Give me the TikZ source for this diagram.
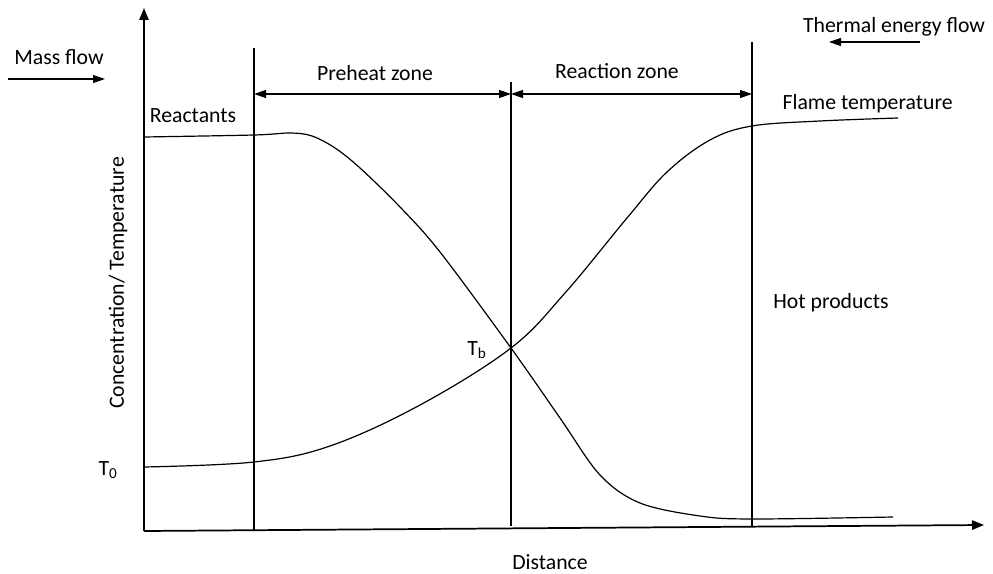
\documentclass[tikz,border=0pt]{standalone}
\usepackage{fontspec}
\setmainfont{Carlito}
\usetikzlibrary{arrows.meta,positioning}

\begin{document}
\begin{tikzpicture}[
  x=0.75pt,y=-0.75pt,
  every node/.style={font=\fontsize{16.3}{19}\selectfont,inner sep=1pt},
  axis/.style={line width=1.3pt,-{Triangle[length=9pt,width=7pt]}},
  zone/.style={line width=0.9pt},
  span/.style={line width=0.9pt,{Triangle[length=9pt,width=6pt]}-{Triangle[length=9pt,width=6pt]}},
  flow/.style={line width=0.9pt,-{Triangle[length=9pt,width=6pt]}},
  profile/.style={line width=0.9pt}
]
\useasboundingbox (0,0) rectangle (993,574);
% axes
\coordinate (origin) at (144,531);
\coordinate (ytip) at (144,8);
\coordinate (xtip) at (984,525);
\draw[axis] (origin) -- (ytip);
\draw[axis] (origin) -- (xtip);
% zone boundaries
\coordinate (preTop) at (254,48);
\coordinate (preBot) at (254,531);
\coordinate (rxnTop) at (511,82);
\coordinate (rxnBot) at (511,526);
\coordinate (hotTop) at (752,42);
\coordinate (hotBot) at (752,527);
\draw[zone] (preTop) -- (preBot);
\draw[zone] (rxnTop) -- (rxnBot);
\draw[zone] (hotTop) -- (hotBot);
\coordinate (spanL) at (254,94);
\coordinate (spanM) at (511,94);
\coordinate (spanR) at (752,94);
\draw[span] (spanL) -- (spanM);
\draw[span] (spanM) -- (spanR);
\node (preheat) at (375,73) {Preheat zone};
\node (reaction) at (617,71) {Reaction zone};
% flow directions
\node (mass) at (59,57) {Mass flow};
\coordinate (massA) at (8,79);
\coordinate (massB) at (105,79);
\draw[flow] (massA) -- (massB);
\node (thermal) at (894,27) {Thermal energy flow};
\coordinate (heatA) at (920,42);
\coordinate (heatB) at (829,42);
\draw[flow] (heatA) -- (heatB);
% profiles
\draw[profile] plot[smooth,tension=0.55] coordinates {
  (144,137) (254,135) (290,133) (312,136) (335,148) (360,168) (400,207)
  (440,252) (511,348) (560,418) (600,475) (640,503) (700,516) (752,519)
  (893,517)};
\draw[profile] plot[smooth,tension=0.6] coordinates {
  (144,467) (254,462) (330,446) (420,405) (511,348) (565,293) (627,218)
  (667,172) (710,140) (752,126) (820,121) (898,118)};
% labels
\node (reactants) at (193,116) {Reactants};
\node[anchor=west] (flame) at (781,104) {Flame temperature};
\node (hot) at (831,303) {Hot products};
\node (tb) at (477,350) {T\textsubscript{b}};
\node (tzero) at (108,470) {T\textsubscript{0}};
\node[rotate=90] (ylabel) at (118,283) {Concentration/ Temperature};
\node (xlabel) at (550,562) {Distance};
\end{tikzpicture}
\end{document}
